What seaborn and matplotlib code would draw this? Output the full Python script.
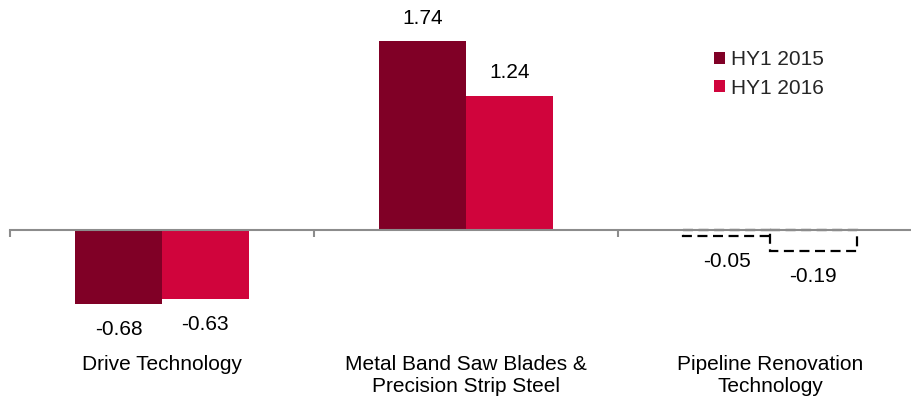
import pandas as pd
import numpy as np
import matplotlib.pyplot as plt
import seaborn as sns
from matplotlib.patches import Patch
from matplotlib.transforms import blended_transform_factory

# Data
categories = ['Drive Technology',
              'Metal Band Saw Blades &\nPrecision Strip Steel',
              'Pipeline Renovation\nTechnology']
hy1_2015 = [-0.68, 1.74, -0.05]
hy1_2016 = [-0.63, 1.24, -0.19]
series_names = ['HY1 2015', 'HY1 2016']
colors = ['#800026', '#d0043c']

sns.set_style('white')
plt.rcParams['font.family'] = ['Liberation Sans', 'DejaVu Sans']

df = pd.DataFrame({
    'category': categories * 2,
    'series': [series_names[0]] * 3 + [series_names[1]] * 3,
    'value': hy1_2015 + hy1_2016,
})

fig = plt.figure(figsize=(9.12, 4.0), dpi=100)
ax = fig.add_axes([10 / 912, 0.1525, 902 / 912, 0.815])

sns.barplot(data=df, x='category', y='value', hue='series', palette=colors,
            width=0.57, dodge=True, legend=False, ax=ax, saturation=1,
            linewidth=0, edgecolor='none')

# last category drawn as dashed outline
n_cat = len(categories)
for i, patch in enumerate(ax.patches):
    if i % n_cat == 2:
        patch.set_facecolor('none')
        patch.set_edgecolor('black')
        patch.set_linestyle((0, (4.5, 2.5)))
        patch.set_linewidth(1.6)

# value labels
for patch in ax.patches:
    y0 = patch.get_y()
    h = patch.get_height()
    val = y0 if (y0 < 0 and h > 0) else y0 + h
    xc = patch.get_x() + patch.get_width() / 2
    off = 16.5 if val >= 0 else -18.5
    ax.annotate(f'{val:.2f}', (xc, val), xytext=(0, off), textcoords='offset points',
                ha='center', va='center', fontsize=15, color='black')

# axis styling: spine at zero with boundary ticks
for s in ['top', 'right', 'left']:
    ax.spines[s].set_visible(False)
ax.spines['bottom'].set_position(('data', 0))
ax.spines['bottom'].set_color('#8c8c8c')
ax.spines['bottom'].set_linewidth(1.5)
ax.set_yticks([])
ax.set_xticks([])
ax.set_xticks([-0.5, 0.5, 1.5, 2.5], minor=True)
ax.tick_params(axis='x', which='minor', bottom=True, length=5, width=1.5,
               color='#8c8c8c', direction='out', labelbottom=False)
ax.set_xlabel('')
ax.set_ylabel('')

# limits after ticks (set_xticks can widen the view)
ax.set_ylim(-1.0, 2.0)
ax.set_xlim(-0.5, -0.5 + 902 / 304)

trans = blended_transform_factory(ax.transData, ax.transAxes)
for i, name in enumerate(categories):
    ax.text(i, -0.05, name, transform=trans, ha='center', va='top',
            fontsize=15, linespacing=1.15, color='black')

handles = [Patch(facecolor=c, edgecolor='none') for c in colors]
fig.legend(handles, series_names, loc='upper left', bbox_to_anchor=(706 / 912, 1 - 42 / 400),
           frameon=False, fontsize=15, handlelength=0.5, handleheight=0.5,
           handletextpad=0.3, labelspacing=0.45, borderaxespad=0)

fig.savefig('out.png', dpi=100)
